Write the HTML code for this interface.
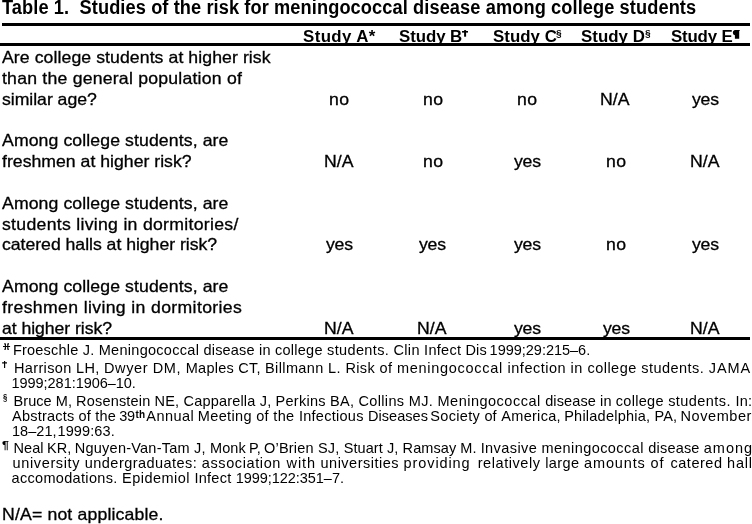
<!DOCTYPE html><html><head><meta charset="utf-8"><title>Table 1</title><style>
html,body{margin:0;padding:0;background:#fff}body{width:752px;height:524px;position:relative;overflow:hidden;color:#000;filter:grayscale(1);font-family:"Liberation Sans", sans-serif}
.r{position:absolute;background:#000}.t{position:absolute;line-height:20px;white-space:pre;transform-origin:0 0}
</style></head><body>
<div class="r" style="left:2px;top:23px;width:748px;height:3px"></div>
<div class="r" style="left:0px;top:43px;width:750px;height:3px"></div>
<div class="r" style="left:0px;top:337px;width:750px;height:3px"></div>
<div class="t" style="left:2.20px;top:-3.00px;font-size:19.6px;font-weight:bold;letter-spacing:0.097px;transform:scaleX(0.93)">Table 1.&nbsp; Studies of the risk for meningococcal disease among college students</div>
<div class="t" style="left:303.00px;top:27.00px;font-size:15.75px;font-weight:bold;letter-spacing:0.375px;transform:scaleX(1.07)">Study A*</div>
<div class="t" style="left:398.80px;top:27.00px;font-size:15.75px;font-weight:bold;letter-spacing:-0.067px;transform:scaleX(1.07)">Study B</div>
<div class="t" style="left:492.70px;top:27.00px;font-size:15.75px;font-weight:bold;letter-spacing:0.033px;transform:scaleX(1.07)">Study C</div>
<div class="t" style="left:581.10px;top:27.00px;font-size:15.75px;font-weight:bold;letter-spacing:0.029px;transform:scaleX(1.07)">Study D</div>
<div class="t" style="left:670.70px;top:27.00px;font-size:15.75px;font-weight:bold;letter-spacing:-0.171px;transform:scaleX(1.07)">Study E</div>
<div class="t" style="left:2.40px;top:47.00px;font-size:16.5px;letter-spacing:0.072px;transform:scaleX(1.07);-webkit-text-stroke:0.3px #000">Are college students at higher risk</div>
<div class="t" style="left:2.40px;top:68.00px;font-size:16.5px;letter-spacing:0.200px;transform:scaleX(1.07);-webkit-text-stroke:0.3px #000">than the general population of</div>
<div class="t" style="left:2.40px;top:89.00px;font-size:16.5px;letter-spacing:-0.033px;transform:scaleX(1.07);-webkit-text-stroke:0.3px #000">similar age?</div>
<div class="t" style="left:2.40px;top:130.00px;font-size:16.5px;letter-spacing:0.093px;transform:scaleX(1.07);-webkit-text-stroke:0.3px #000">Among college students, are</div>
<div class="t" style="left:2.40px;top:151.00px;font-size:16.5px;letter-spacing:0.008px;transform:scaleX(1.07);-webkit-text-stroke:0.3px #000">freshmen at higher risk?</div>
<div class="t" style="left:2.40px;top:193.00px;font-size:16.5px;letter-spacing:0.093px;transform:scaleX(1.07);-webkit-text-stroke:0.3px #000">Among college students, are</div>
<div class="t" style="left:2.40px;top:214.00px;font-size:16.5px;letter-spacing:0.269px;transform:scaleX(1.07);-webkit-text-stroke:0.3px #000">students living in dormitories/</div>
<div class="t" style="left:2.40px;top:234.00px;font-size:16.5px;letter-spacing:-0.027px;transform:scaleX(1.07);-webkit-text-stroke:0.3px #000">catered halls at higher risk?</div>
<div class="t" style="left:2.40px;top:276.00px;font-size:16.5px;letter-spacing:0.093px;transform:scaleX(1.07);-webkit-text-stroke:0.3px #000">Among college students, are</div>
<div class="t" style="left:2.40px;top:297.00px;font-size:16.5px;letter-spacing:0.329px;transform:scaleX(1.07);-webkit-text-stroke:0.3px #000">freshmen living in dormitories</div>
<div class="t" style="left:2.40px;top:318.00px;font-size:16.5px;letter-spacing:-0.053px;transform:scaleX(1.07);-webkit-text-stroke:0.3px #000">at higher risk?</div>
<div class="t" style="left:329.20px;top:89.00px;font-size:16.5px;letter-spacing:0.400px;transform:scaleX(1.07);-webkit-text-stroke:0.3px #000">no</div>
<div class="t" style="left:422.70px;top:89.00px;font-size:16.5px;letter-spacing:0.400px;transform:scaleX(1.07);-webkit-text-stroke:0.3px #000">no</div>
<div class="t" style="left:517.20px;top:89.00px;font-size:16.5px;letter-spacing:0.400px;transform:scaleX(1.07);-webkit-text-stroke:0.3px #000">no</div>
<div class="t" style="left:600.45px;top:89.00px;font-size:16.5px;letter-spacing:0.100px;transform:scaleX(1.07);-webkit-text-stroke:0.3px #000">N/A</div>
<div class="t" style="left:692.20px;top:89.00px;font-size:16.5px;letter-spacing:-0.200px;transform:scaleX(1.07);-webkit-text-stroke:0.3px #000">yes</div>
<div class="t" style="left:323.75px;top:151.00px;font-size:16.5px;letter-spacing:0.100px;transform:scaleX(1.07);-webkit-text-stroke:0.3px #000">N/A</div>
<div class="t" style="left:422.70px;top:151.00px;font-size:16.5px;letter-spacing:0.400px;transform:scaleX(1.07);-webkit-text-stroke:0.3px #000">no</div>
<div class="t" style="left:513.90px;top:151.00px;font-size:16.5px;letter-spacing:-0.200px;transform:scaleX(1.07);-webkit-text-stroke:0.3px #000">yes</div>
<div class="t" style="left:605.90px;top:151.00px;font-size:16.5px;letter-spacing:0.400px;transform:scaleX(1.07);-webkit-text-stroke:0.3px #000">no</div>
<div class="t" style="left:690.05px;top:151.00px;font-size:16.5px;letter-spacing:0.100px;transform:scaleX(1.07);-webkit-text-stroke:0.3px #000">N/A</div>
<div class="t" style="left:325.90px;top:234.00px;font-size:16.5px;letter-spacing:-0.200px;transform:scaleX(1.07);-webkit-text-stroke:0.3px #000">yes</div>
<div class="t" style="left:419.40px;top:234.00px;font-size:16.5px;letter-spacing:-0.200px;transform:scaleX(1.07);-webkit-text-stroke:0.3px #000">yes</div>
<div class="t" style="left:513.90px;top:234.00px;font-size:16.5px;letter-spacing:-0.200px;transform:scaleX(1.07);-webkit-text-stroke:0.3px #000">yes</div>
<div class="t" style="left:605.90px;top:234.00px;font-size:16.5px;letter-spacing:0.400px;transform:scaleX(1.07);-webkit-text-stroke:0.3px #000">no</div>
<div class="t" style="left:692.20px;top:234.00px;font-size:16.5px;letter-spacing:-0.200px;transform:scaleX(1.07);-webkit-text-stroke:0.3px #000">yes</div>
<div class="t" style="left:323.75px;top:318.00px;font-size:16.5px;letter-spacing:0.100px;transform:scaleX(1.07);-webkit-text-stroke:0.3px #000">N/A</div>
<div class="t" style="left:417.25px;top:318.00px;font-size:16.5px;letter-spacing:0.100px;transform:scaleX(1.07);-webkit-text-stroke:0.3px #000">N/A</div>
<div class="t" style="left:513.90px;top:318.00px;font-size:16.5px;letter-spacing:-0.200px;transform:scaleX(1.07);-webkit-text-stroke:0.3px #000">yes</div>
<div class="t" style="left:602.60px;top:318.00px;font-size:16.5px;letter-spacing:-0.200px;transform:scaleX(1.07);-webkit-text-stroke:0.3px #000">yes</div>
<div class="t" style="left:690.05px;top:318.00px;font-size:16.5px;letter-spacing:0.100px;transform:scaleX(1.07);-webkit-text-stroke:0.3px #000">N/A</div>
<div class="t" style="left:12.90px;top:340.00px;font-size:14.5px;letter-spacing:0.215px;transform:scaleX(1.0)">Froeschle J. </div>
<div class="t" style="left:98.70px;top:340.00px;font-size:14.5px;letter-spacing:0.289px;transform:scaleX(1.0)">Meningococcal </div>
<div class="t" style="left:203.50px;top:340.00px;font-size:14.5px;letter-spacing:0.188px;transform:scaleX(1.0)">disease in </div>
<div class="t" style="left:274.90px;top:340.00px;font-size:14.5px;letter-spacing:0.277px;transform:scaleX(1.0)">college </div>
<div class="t" style="left:327.10px;top:340.00px;font-size:14.5px;letter-spacing:0.362px;transform:scaleX(1.0)">students. </div>
<div class="t" style="left:393.60px;top:340.00px;font-size:14.5px;letter-spacing:0.292px;transform:scaleX(1.0)">Clin Infect </div>
<div class="t" style="left:465.60px;top:340.00px;font-size:14.5px;letter-spacing:0.050px;transform:scaleX(1.0);word-spacing:-1.18px">Dis </div>
<div class="t" style="left:489.60px;top:340.00px;font-size:14.5px;letter-spacing:-0.015px;transform:scaleX(1.0)">1999;29:215–6.</div>
<div class="t" style="left:14.00px;top:358.00px;font-size:14.5px;letter-spacing:0.352px;transform:scaleX(1.0)">Harrison LH, </div>
<div class="t" style="left:104.00px;top:358.00px;font-size:14.5px;letter-spacing:0.607px;transform:scaleX(1.0)">Dwyer DM, </div>
<div class="t" style="left:185.80px;top:358.00px;font-size:14.5px;letter-spacing:0.240px;transform:scaleX(1.0)">Maples CT, </div>
<div class="t" style="left:265.00px;top:358.00px;font-size:14.5px;letter-spacing:0.386px;transform:scaleX(1.0)">Billmann L. </div>
<div class="t" style="left:345.40px;top:358.00px;font-size:14.5px;letter-spacing:0.395px;transform:scaleX(1.0)">Risk of </div>
<div class="t" style="left:396.90px;top:358.00px;font-size:14.5px;letter-spacing:0.711px;transform:scaleX(1.0)">meningococcal </div>
<div class="t" style="left:507.60px;top:358.00px;font-size:14.5px;letter-spacing:0.495px;transform:scaleX(1.0)">infection in </div>
<div class="t" style="left:587.40px;top:358.00px;font-size:14.5px;letter-spacing:0.489px;transform:scaleX(1.0)">college </div>
<div class="t" style="left:641.30px;top:358.00px;font-size:14.5px;letter-spacing:0.463px;transform:scaleX(1.0)">students. </div>
<div class="t" style="left:708.80px;top:358.00px;font-size:14.5px;letter-spacing:0.933px;transform:scaleX(1.0)">JAMA</div>
<div class="t" style="left:11.50px;top:373.00px;font-size:14.5px;letter-spacing:-0.038px;transform:scaleX(1.0)">1999;281:1906–10.</div>
<div class="t" style="left:13.60px;top:391.00px;font-size:14.5px;letter-spacing:0.050px;transform:scaleX(1.0)">Bruce M, </div>
<div class="t" style="left:76.10px;top:391.00px;font-size:14.5px;letter-spacing:0.175px;transform:scaleX(1.0)">Rosenstein NE, </div>
<div class="t" style="left:183.50px;top:391.00px;font-size:14.5px;letter-spacing:0.188px;transform:scaleX(1.0)">Capparella J, </div>
<div class="t" style="left:275.60px;top:391.00px;font-size:14.5px;letter-spacing:0.260px;transform:scaleX(1.0)">Perkins BA, </div>
<div class="t" style="left:358.50px;top:391.00px;font-size:14.5px;letter-spacing:0.339px;transform:scaleX(1.0)">Collins MJ. </div>
<div class="t" style="left:437.50px;top:391.00px;font-size:14.5px;letter-spacing:0.496px;transform:scaleX(1.0)">Meningococcal </div>
<div class="t" style="left:545.20px;top:391.00px;font-size:14.5px;letter-spacing:0.107px;transform:scaleX(1.0)">disease in </div>
<div class="t" style="left:615.70px;top:391.00px;font-size:14.5px;letter-spacing:0.314px;transform:scaleX(1.0)">college </div>
<div class="t" style="left:668.20px;top:391.00px;font-size:14.5px;letter-spacing:0.432px;transform:scaleX(1.0)">students. </div>
<div class="t" style="left:735.40px;top:391.00px;font-size:14.5px;letter-spacing:0.300px;transform:scaleX(1.0)">In:</div>
<div class="t" style="left:12.10px;top:406.00px;font-size:14.5px;letter-spacing:0.201px;transform:scaleX(1.0)">Abstracts of the </div>
<div class="t" style="left:119.30px;top:406.00px;font-size:14.5px;letter-spacing:-0.300px;transform:scaleX(1.0)">39</div>
<div class="t" style="left:135.60px;top:406.00px;font-size:14.5px;letter-spacing:0.000px;transform:scaleX(1.0)"><span style="font-size:10px;font-weight:bold;position:relative;top:-3.5px">th</span></div>
<div class="t" style="left:146.30px;top:406.00px;font-size:14.5px;letter-spacing:0.473px;transform:scaleX(1.0)">Annual </div>
<div class="t" style="left:197.80px;top:406.00px;font-size:14.5px;letter-spacing:0.345px;transform:scaleX(1.0)">Meeting of the </div>
<div class="t" style="left:298.90px;top:406.00px;font-size:14.5px;letter-spacing:0.273px;transform:scaleX(1.0)">Infectious </div>
<div class="t" style="left:368.00px;top:406.00px;font-size:14.5px;letter-spacing:0.050px;transform:scaleX(1.0);word-spacing:-1.82px">Diseases </div>
<div class="t" style="left:430.30px;top:406.00px;font-size:14.5px;letter-spacing:0.313px;transform:scaleX(1.0)">Society </div>
<div class="t" style="left:484.40px;top:406.00px;font-size:14.5px;letter-spacing:0.050px;transform:scaleX(1.0);word-spacing:-0.37px">of </div>
<div class="t" style="left:501.30px;top:406.00px;font-size:14.5px;letter-spacing:0.294px;transform:scaleX(1.0)">America, </div>
<div class="t" style="left:564.20px;top:406.00px;font-size:14.5px;letter-spacing:0.237px;transform:scaleX(1.0)">Philadelphia, </div>
<div class="t" style="left:654.60px;top:406.00px;font-size:14.5px;letter-spacing:0.050px;transform:scaleX(1.0);word-spacing:-0.63px">PA, </div>
<div class="t" style="left:680.50px;top:406.00px;font-size:14.5px;letter-spacing:0.571px;transform:scaleX(1.0)">November</div>
<div class="t" style="left:12.00px;top:421.00px;font-size:14.5px;letter-spacing:0.050px;transform:scaleX(1.0);word-spacing:-3.24px">18–21, </div>
<div class="t" style="left:57.50px;top:421.00px;font-size:14.5px;letter-spacing:0.114px;transform:scaleX(1.0)">1999:63.</div>
<div class="t" style="left:13.60px;top:438.00px;font-size:14.5px;letter-spacing:0.050px;transform:scaleX(1.0);word-spacing:-0.66px">Neal KR, </div>
<div class="t" style="left:74.80px;top:438.00px;font-size:14.5px;letter-spacing:0.234px;transform:scaleX(1.0)">Nguyen-Van-Tam J, </div>
<div class="t" style="left:210.10px;top:438.00px;font-size:14.5px;letter-spacing:0.050px;transform:scaleX(1.0);word-spacing:-0.93px">Monk P, </div>
<div class="t" style="left:264.00px;top:438.00px;font-size:14.5px;letter-spacing:0.195px;transform:scaleX(1.0)">O’Brien SJ, </div>
<div class="t" style="left:343.70px;top:438.00px;font-size:14.5px;letter-spacing:0.087px;transform:scaleX(1.0)">Stuart J, </div>
<div class="t" style="left:402.60px;top:438.00px;font-size:14.5px;letter-spacing:0.076px;transform:scaleX(1.0)">Ramsay M. </div>
<div class="t" style="left:480.70px;top:438.00px;font-size:14.5px;letter-spacing:0.407px;transform:scaleX(1.0)">Invasive </div>
<div class="t" style="left:541.60px;top:438.00px;font-size:14.5px;letter-spacing:0.425px;transform:scaleX(1.0)">meningococcal </div>
<div class="t" style="left:648.30px;top:438.00px;font-size:14.5px;letter-spacing:0.186px;transform:scaleX(1.0)">disease </div>
<div class="t" style="left:703.80px;top:438.00px;font-size:14.5px;letter-spacing:1.000px;transform:scaleX(1.0)">among</div>
<div class="t" style="left:12.60px;top:453.00px;font-size:14.5px;letter-spacing:0.629px;transform:scaleX(1.0)">university </div>
<div class="t" style="left:84.80px;top:453.00px;font-size:14.5px;letter-spacing:0.460px;transform:scaleX(1.0)">undergraduates: </div>
<div class="t" style="left:201.80px;top:453.00px;font-size:14.5px;letter-spacing:0.602px;transform:scaleX(1.0)">association </div>
<div class="t" style="left:286.60px;top:453.00px;font-size:14.5px;letter-spacing:0.900px;transform:scaleX(1.0);word-spacing:0.57px">with </div>
<div class="t" style="left:320.50px;top:453.00px;font-size:14.5px;letter-spacing:0.503px;transform:scaleX(1.0)">universities </div>
<div class="t" style="left:403.60px;top:453.00px;font-size:14.5px;letter-spacing:0.900px;transform:scaleX(1.0);word-spacing:2.22px">providing </div>
<div class="t" style="left:477.70px;top:453.00px;font-size:14.5px;letter-spacing:0.568px;transform:scaleX(1.0)">relatively </div>
<div class="t" style="left:545.20px;top:453.00px;font-size:14.5px;letter-spacing:0.436px;transform:scaleX(1.0)">large </div>
<div class="t" style="left:584.10px;top:453.00px;font-size:14.5px;letter-spacing:0.855px;transform:scaleX(1.0)">amounts </div>
<div class="t" style="left:650.60px;top:453.00px;font-size:14.5px;letter-spacing:0.900px;transform:scaleX(1.0);word-spacing:1.07px">of </div>
<div class="t" style="left:670.50px;top:453.00px;font-size:14.5px;letter-spacing:0.524px;transform:scaleX(1.0)">catered </div>
<div class="t" style="left:727.10px;top:453.00px;font-size:14.5px;letter-spacing:0.800px;transform:scaleX(1.0)">hall</div>
<div class="t" style="left:11.50px;top:468.00px;font-size:14.5px;letter-spacing:0.327px;transform:scaleX(1.0)">accomodations. </div>
<div class="t" style="left:122.00px;top:468.00px;font-size:14.5px;letter-spacing:0.480px;transform:scaleX(1.0)">Epidemiol </div>
<div class="t" style="left:194.50px;top:468.00px;font-size:14.5px;letter-spacing:0.243px;transform:scaleX(1.0)">Infect </div>
<div class="t" style="left:235.70px;top:468.00px;font-size:14.5px;letter-spacing:-0.043px;transform:scaleX(1.0)">1999;122:351–7.</div>
<div class="t" style="left:1.50px;top:504.00px;font-size:16.5px;letter-spacing:0.143px;transform:scaleX(1.07);-webkit-text-stroke:0.3px #000">N/A= not applicable.</div>
<div style="position:absolute;left:555.90px;top:29.10px;font-size:8.36px;font-weight:bold;line-height:1;transform-origin:0 0;transform:scaleX(1.220)">§</div>
<div style="position:absolute;left:644.80px;top:29.10px;font-size:8.36px;font-weight:bold;line-height:1;transform-origin:0 0;transform:scaleX(1.220)">§</div>
<div style="position:absolute;left:2.70px;top:393.00px;font-size:8.48px;font-weight:bold;line-height:1;transform-origin:0 0;transform:scaleX(0.896)">§</div>
<div style="position:absolute;left:2.00px;top:440.30px;font-size:10.55px;font-weight:bold;line-height:1;transform-origin:0 0;transform:scaleX(1.176)">¶</div>
<svg width="752" height="524" style="position:absolute;left:0;top:0" fill="none" stroke="#000">
<path d="M734.7 30.1H739.7V31.1H739.2V38.8H734.9V35.3A2.7 2.7 0 0 1 734.7 30.1Z" fill="#000" stroke="none"/>
<g stroke-width="2"><path d="M465.1 30.1V36.7"/></g><g stroke-width="1.6"><path d="M462 31.8H468"/></g>
<g stroke-width="1.15"><path d="M4.6 361V368.1M2.1 362.8H7"/></g>
<g stroke-width="1.1"><path d="M3 346.5H10.1M5.4 343.6V349.7M7.8 343.6V349.7M4.2 343.9H5.4M7.8 343.9H9M4.2 349.3H5.4M7.8 349.3H9"/></g>
</svg>
</body></html>
